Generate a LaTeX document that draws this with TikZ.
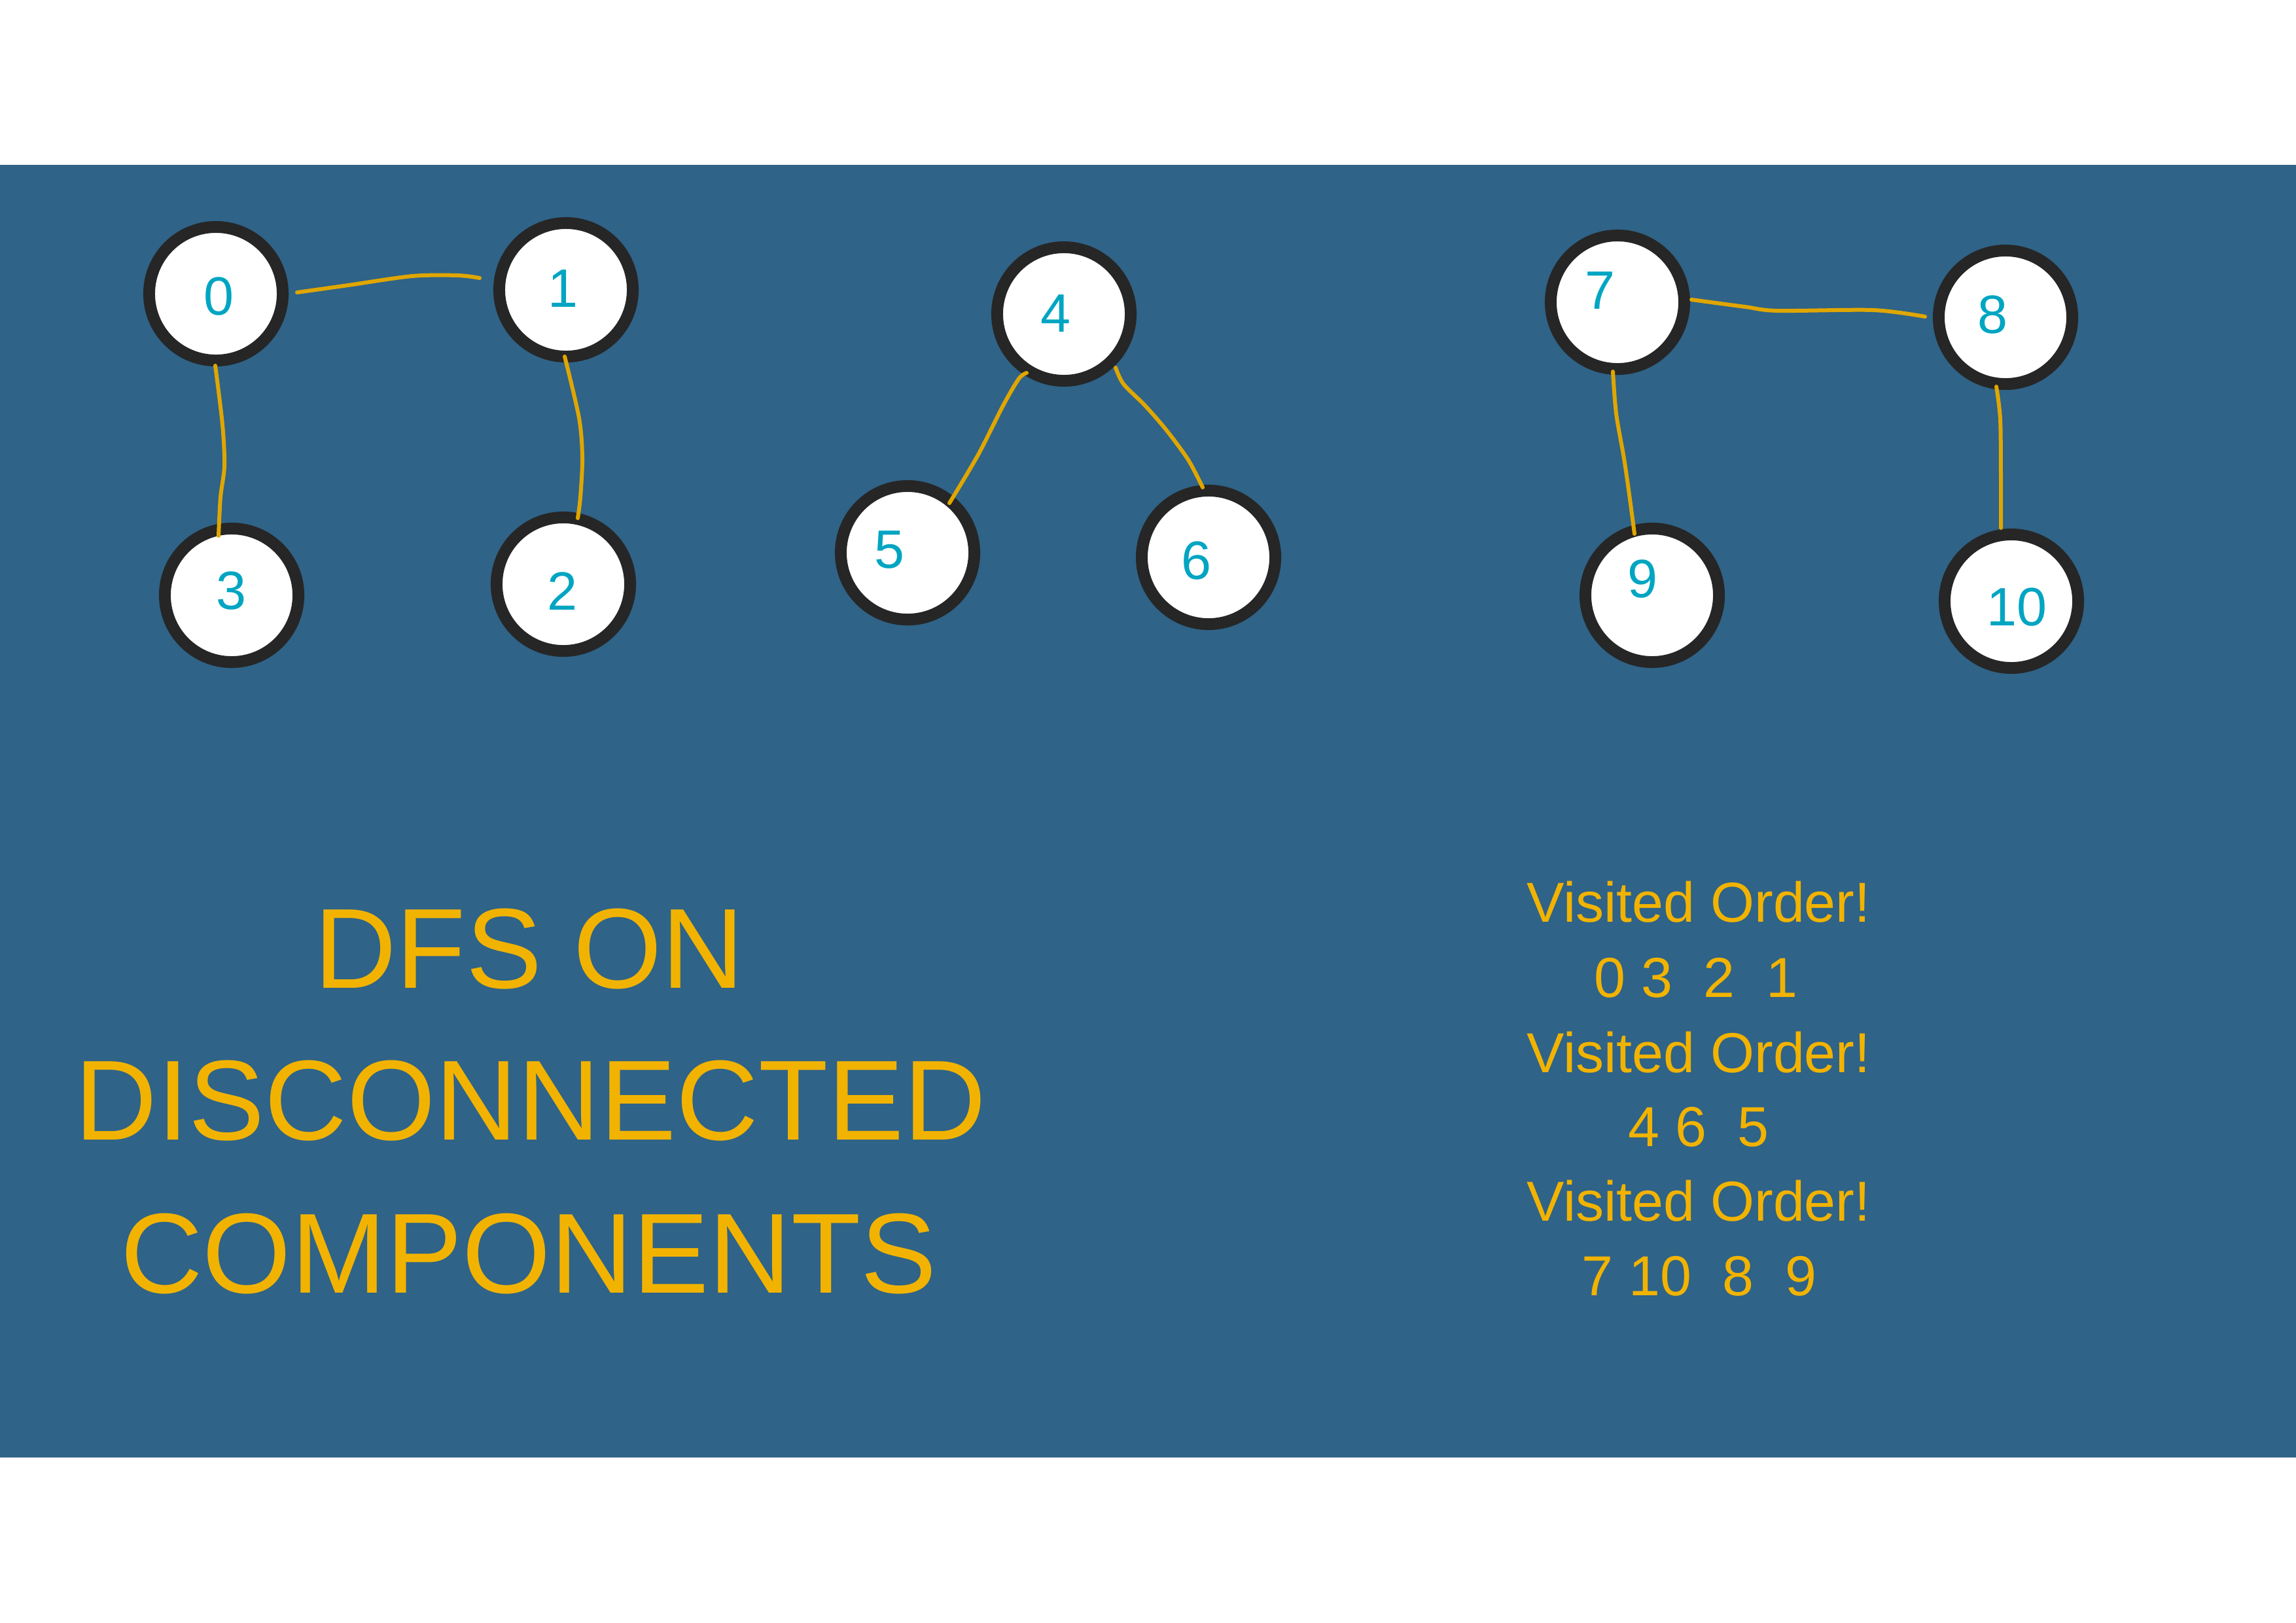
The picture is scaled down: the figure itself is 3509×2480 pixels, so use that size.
\documentclass[tikz,border=0pt]{standalone}
\usepackage{fontspec}
\setmainfont{Liberation Sans}
\usetikzlibrary{calc}
\definecolor{bg}{HTML}{2F6387}
\definecolor{gold}{HTML}{F2B300}
\definecolor{edgegold}{HTML}{E0A600}
\definecolor{digitc}{HTML}{00A5C2}
\definecolor{ring}{HTML}{262626}
\begin{document}
\begin{tikzpicture}[x=0.01cm,y=-0.01cm,
  vert/.style={circle, draw=ring, fill=white, line width=0.18cm, minimum size=2.04cm, inner sep=0pt},
  digit/.style={text=digitc, font=\fontsize{23.5}{24}\selectfont, inner sep=0pt},
  edge/.style={draw=edgegold, line width=0.06cm, line cap=round, line join=round},
  title/.style={text=gold, font=\fontsize{49.5}{60}\selectfont, anchor=base, inner sep=0pt},
  visit/.style={text=gold, font=\fontsize{24.5}{30}\selectfont, anchor=base, inner sep=0pt}]
\fill[white] (0,0) rectangle (3509,2480);
\useasboundingbox (0,0) rectangle (3509,2480);
\fill[bg] (0,252) rectangle (3509,2228);

% vertices
\node[vert] (n0) at (330,449) {};
\node[vert] (n1) at (865,443) {};
\node[vert] (n3) at (354,910) {};
\node[vert] (n2) at (861,893) {};
\node[vert] (n4) at (1626,480) {};
\node[vert] (n5) at (1387,845) {};
\node[vert] (n6) at (1847,852) {};
\node[vert] (n7) at (2472,462) {};
\node[vert] (n8) at (3065,485) {};
\node[vert] (n9) at (2525,910) {};
\node[vert] (n10) at (3074,919) {};

% labels
\node[digit] (l0) at ($(n0)+(4,4)$) {0};
\node[digit] (l1) at ($(n1)+(-5,-2)$) {1};
\node[digit] (l3) at ($(n3)+(-1,-7)$) {3};
\node[digit] (l2) at ($(n2)+(-2,11)$) {2};
\node[digit] (l4) at ($(n4)+(-13,-1)$) {4};
\node[digit] (l5) at ($(n5)+(-28,-5)$) {5};
\node[digit] (l6) at ($(n6)+(-19,5)$) {6};
\node[digit] (l7) at ($(n7)+(-27,-18)$) {7};
\node[digit] (l8) at ($(n8)+(-20,-4)$) {8};
\node[digit] (l9) at ($(n9)+(-15,-25)$) {9};
\node[digit] (l10) at ($(n10)+(8,9)$) {10};

% edge end points
\coordinate (a01) at ($(n0)+(124,-2)$);
\coordinate (b01) at ($(n1)+(-132,-18)$);
\coordinate (a03) at ($(n0)+(-1,110)$);
\coordinate (b03) at ($(n3)+(-20,-91)$);
\coordinate (a12) at ($(n1)+(-2,102)$);
\coordinate (b12) at ($(n2)+(22,-101)$);
\coordinate (a45) at ($(n4)+(-57,90)$);
\coordinate (b45) at ($(n5)+(64,-76)$);
\coordinate (a46) at ($(n4)+(79,82)$);
\coordinate (b46) at ($(n6)+(-9,-107)$);
\coordinate (a78) at ($(n7)+(113,-4)$);
\coordinate (b78) at ($(n8)+(-123,-1)$);
\coordinate (a79) at ($(n7)+(-7,106)$);
\coordinate (b79) at ($(n9)+(-27,-94)$);
\coordinate (a810) at ($(n8)+(-14,106)$);
\coordinate (b810) at ($(n10)+(-16,-112)$);

% edges
\draw[edge] plot[smooth] coordinates {(a01) (532,436) (630,422) (700,421) (b01)};
\draw[edge] plot[smooth] coordinates {(a03) (340,649) (343,712) (337,760) (b03)};
\draw[edge] plot[smooth] coordinates {(a12) (885,639) (890,700) (887,760) (b12)};
\draw[edge] plot[smooth] coordinates {(a45) (1557,579) (1533,620) (1495,695) (b45)};
\draw[edge] plot[smooth] coordinates {(a46) (1717,587) (1750,620) (1783,658) (1816,703) (b46)};
\draw[edge] plot[smooth] coordinates {(a78) (2667,469) (2717,475) (2863,474) (b78)};
\draw[edge] plot[smooth] coordinates {(a79) (2470,632) (2482,701) (2490,756) (b79)};
\draw[edge] plot[smooth] coordinates {(a810) (3057,641) (3058,733) (b810)};

% title
\node[title] (t1) at (809,1510) {DFS ON};
\node[title] (t2) at (811,1742) {DISCONNECTED};
\node[title] (t3) at (808,1976) {COMPONENTS};

% visited orders
\node[visit] (v1) at (2596,1409) {Visited Order!};
\node[visit] (o1) at (2592,1524) {0 3~~2~~1};
\node[visit] (v2) at (2596,1639) {Visited Order!};
\node[visit] (o2) at (2596,1752) {4 6~~5};
\node[visit] (v3) at (2596,1866) {Visited Order!};
\node[visit] (o3) at (2597,1980) {7 10~~8~~9};
\end{tikzpicture}
\end{document}
